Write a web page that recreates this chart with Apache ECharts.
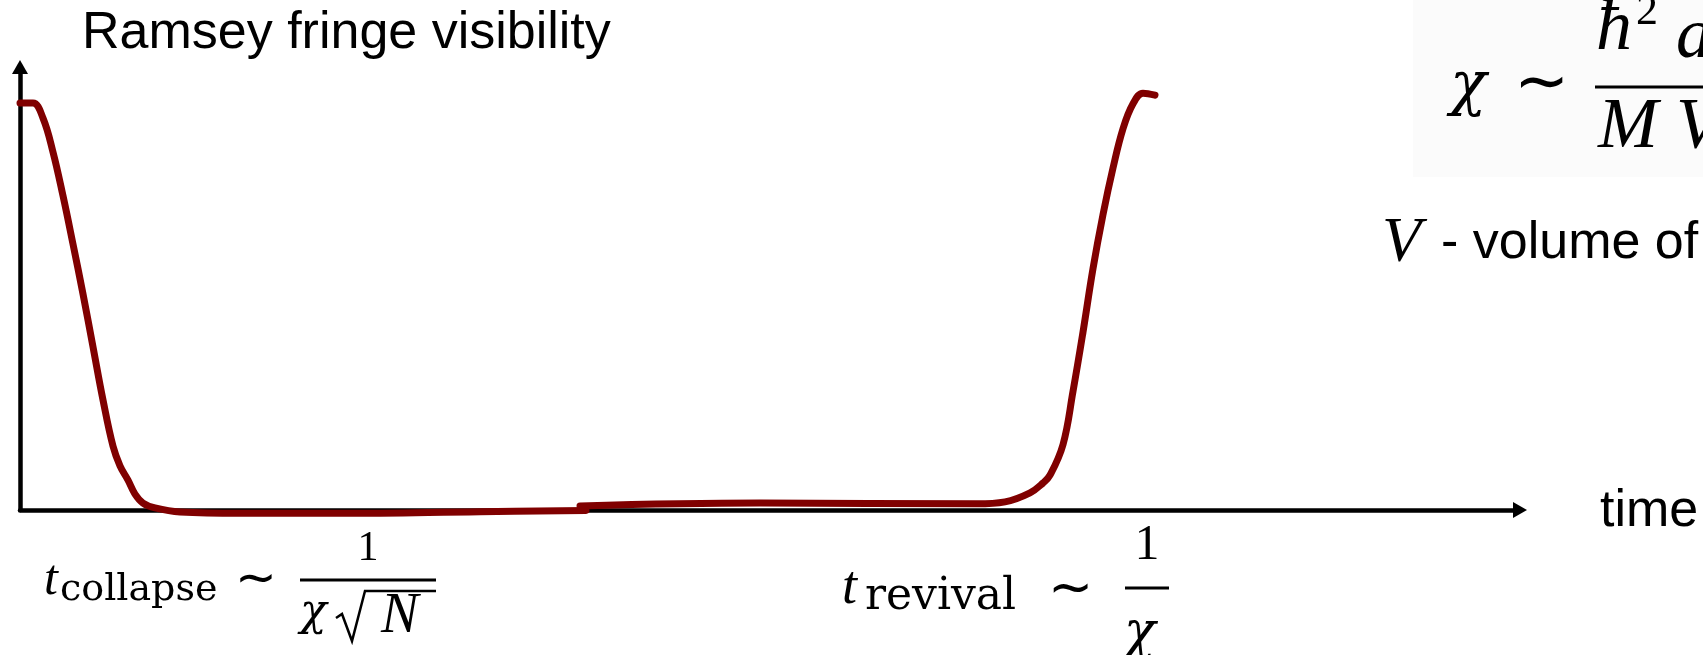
<!DOCTYPE html>
<html>
<head>
<meta charset="utf-8">
<script src="https://cdn.jsdelivr.net/npm/echarts@6/dist/echarts.min.js"></script>
<style>
html,body{margin:0;padding:0;background:#fff;}
#chart{width:1703px;height:655px;}
</style>
</head>
<body>
<div id="chart"></div>
<script>
// Collapse branch (time in arbitrary units, visibility normalised to 1)
const collapseTime = [0, 0.13, 0.23, 0.33, 0.43, 0.53, 0.63, 0.73, 0.83, 0.93, 1.00, 1.08, 1.15, 1.23, 1.35, 1.60, 2.20, 3.20, 4.60, 5.66];
const collapseVis  = [0.995, 0.995, 0.958, 0.875, 0.768, 0.650, 0.528, 0.399, 0.269, 0.156, 0.108, 0.073, 0.039, 0.017, 0.005, -0.005, -0.008, -0.008, -0.004, -0.001];
// Revival branch
const revivalTime = [5.60, 7.40, 9.57, 9.85, 10.10, 10.23, 10.30, 10.43, 10.53, 10.63, 10.73, 10.83, 10.93, 11.03, 11.13, 11.23, 11.35];
const revivalVis  = [0.010, 0.017, 0.015, 0.020, 0.042, 0.066, 0.085, 0.160, 0.290, 0.435, 0.590, 0.722, 0.836, 0.932, 0.993, 1.019, 1.014];

const yLabel = 'Ramsey fringe visibility';
const xLabel = 'time';

const chart = echarts.init(document.getElementById('chart'), null, {renderer: 'canvas'});

const sans = "'Liberation Sans', Arial, sans-serif";
const serif = "'Liberation Serif', 'Times New Roman', serif";
const serif2 = "'DejaVu Serif', serif";
const red = '#800000';

function txt(x, y, text, size, family, style, align) {
  return {
    type: 'text', x: x, y: y, silent: true,
    style: {text: text, fontSize: size, fontFamily: family, fontStyle: style || 'normal',
            fill: '#000', align: align || 'left', verticalAlign: 'middle'}
  };
}
function line(x1, y1, x2, y2, w, c) {
  return {type: 'line', silent: true, shape: {x1: x1, y1: y1, x2: x2, y2: y2},
          style: {stroke: c || '#000', lineWidth: w}};
}

const option = {
  backgroundColor: '#fff',
  animation: false,
  grid: {left: 20, top: 67, right: 183, bottom: 145},
  xAxis: {
    type: 'value', min: 0, max: 15,
    axisLine: {show: true, onZero: true, symbol: ['none', 'triangle'], symbolSize: [16, 14],
               lineStyle: {color: '#000', width: 4.5}},
    axisTick: {show: false}, axisLabel: {show: false}, splitLine: {show: false}
  },
  yAxis: {
    type: 'value', min: 0, max: 1.083,
    axisLine: {show: true, symbol: ['none', 'triangle'], symbolSize: [16, 14],
               lineStyle: {color: '#000', width: 4.5}},
    axisTick: {show: false}, axisLabel: {show: false}, splitLine: {show: false}
  },
  series: [
    {type: 'line', name: 'collapse', data: collapseTime.map((t, i) => [t, collapseVis[i]]),
     showSymbol: false, smooth: 0.4, clip: false,
     lineStyle: {color: red, width: 7, cap: 'round', join: 'round'}},
    {type: 'line', name: 'revival', data: revivalTime.map((t, i) => [t, revivalVis[i]]),
     showSymbol: false, smooth: 0.4, clip: false,
     lineStyle: {color: red, width: 7, cap: 'round', join: 'round'}}
  ],
  graphic: [
    // formula box (top right)
    {type: 'rect', silent: true, z: -1, shape: {x: 1413, y: 0, width: 290, height: 177},
     style: {fill: '#fbfbfb'}},
    txt(82, 34, yLabel, 52, sans),
    txt(1600, 512, xLabel, 52, sans),
    // chi ~ hbar^2 a / (M V)
    txt(1450, 88, 'χ', 60, serif2, 'italic'),
    txt(1514, 86, '∼', 66, serif),
    line(1595, 87, 1710, 87, 3),
    txt(1596, 30, 'ħ', 72, serif, 'italic'),
    txt(1636, 12, '2', 44, serif),
    txt(1676, 38, 'a', 72, serif, 'italic'),
    txt(1598, 128, 'M V', 72, serif, 'italic'),
    // V - volume of
    txt(1382, 244, 'V', 64, serif, 'italic'),
    txt(1441, 244, '- volume of', 52, sans),
    // t_collapse ~ 1/(chi sqrt N)
    txt(44, 581, 't', 50, serif, 'italic'),
    txt(60, 590, 'collapse', 38, serif2),
    txt(235, 581, '∼', 50, serif),
    txt(368, 549, '1', 42, serif, 'normal', 'center'),
    line(300, 580, 436, 580, 3),
    txt(300, 614, 'χ', 44, serif2, 'italic'),
    {type: 'polyline', silent: true, shape: {points: [[336, 618], [342, 614], [352, 641], [365, 591], [436, 591]]},
     style: {stroke: '#000', lineWidth: 2.5, fill: null}},
    txt(381, 617, 'N', 56, serif, 'italic'),
    // t_revival ~ 1/chi
    txt(842, 589, 't', 54, serif, 'italic'),
    txt(865, 598, 'revival', 44, serif2),
    txt(1048, 591, '∼', 54, serif),
    txt(1147, 546, '1', 50, serif, 'normal', 'center'),
    line(1125, 588, 1169, 588, 3),
    txt(1124, 634, 'χ', 52, serif2, 'italic')
  ]
};
chart.setOption(option);
</script>
</body>
</html>
